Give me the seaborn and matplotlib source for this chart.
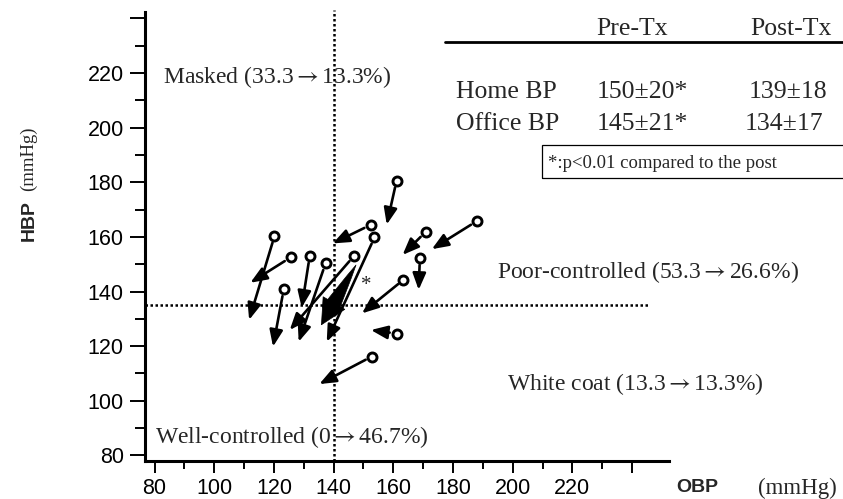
import matplotlib
matplotlib.use('Agg')
import matplotlib.pyplot as plt
from matplotlib.lines import Line2D
from matplotlib.patches import Rectangle
from matplotlib.ticker import FixedLocator
import seaborn as sns
import pandas as pd

# ---------------- data ----------------
obp_pre = [120.2, 125.6, 132.0, 137.3, 146.8, 152.4, 153.7, 123.3, 152.8, 161.1, 170.8, 188.0, 168.9, 163.4, 161.1]
hbp_pre = [160.3, 152.5, 153.0, 150.3, 153.0, 164.4, 159.8, 140.8, 116.2, 180.6, 161.8, 165.8, 152.3, 144.3, 124.6]
obp_post = [111.7, 112.1, 129.3, 128.3, 125.3, 139.7, 137.7, 119.7, 135.2, 157.8, 163.1, 172.9, 168.5, 149.5, 152.5]
hbp_post = [129.6, 143.2, 134.1, 121.6, 125.9, 157.6, 121.6, 119.8, 106.1, 164.5, 153.4, 155.5, 140.6, 132.0, 125.9]
obp_mean = [147.5, 135.8]   # pre, post (thick arrow)
hbp_mean = [149.7, 127.6]
office_thr = 140
home_thr = 135

x_ticks = [80, 100, 120, 140, 160, 180, 200, 220, 240]
x_ticklabels = ['80', '100', '120', '140', '160', '180', '200', '220', '']
x_minor = [90, 110, 130, 150, 170, 190, 210, 230]
y_ticks = [80, 100, 120, 140, 160, 180, 200, 220, 240]
y_ticklabels = ['80', '100', '120', '140', '160', '180', '200', '220', '']
y_minor = [90, 110, 130, 150, 170, 190, 210, 230]

ARROW = r'$\rightarrow$'
zone_masked = 'Masked (33.3' + ARROW + '13.3%)'
zone_poor = 'Poor-controlled (53.3' + ARROW + '26.6%)'
zone_white = 'White coat (13.3' + ARROW + '13.3%)'
zone_well = 'Well-controlled (0' + ARROW + '46.7%)'
table_cols = ['Pre-Tx', 'Post-Tx']
table_rows = ['Home BP', 'Office BP']
table_pre = ['150\u00b120*', '145\u00b121*']
table_post = ['139\u00b118', '134\u00b117']
footnote = '*:p<0.01 compared to the post'

df = pd.DataFrame({'obp_pre': obp_pre, 'hbp_pre': hbp_pre,
                   'obp_post': obp_post, 'hbp_post': hbp_post})

# ---------------- figure ----------------
W, H = 843, 499
sns.set_theme(style='white')
plt.rcParams['font.family'] = ['Liberation Sans', 'DejaVu Sans']
plt.rcParams['mathtext.fontset'] = 'stix'
SERIF = ['Liberation Serif', 'DejaVu Serif']

fig = plt.figure(figsize=(W / 100, H / 100), dpi=100)
ax = fig.add_axes([0, 0, 1, 1])
ax.set_facecolor('none')

# pixel calibration of the reference
x80_px, xs = 154.5, 2.985
y150_px, ys = 264.2, 2.731
ax.set_xlim(80 - x80_px / xs, 80 + (W - x80_px) / xs)
ax.set_ylim(150 - (H - y150_px) / ys, 150 + y150_px / ys)

def fx(px):
    return px / W

def fy(py):
    return 1 - py / H

x_spine = 76.65
y_spine = 77.9
for s in ['top', 'right']:
    ax.spines[s].set_visible(False)
ax.spines['left'].set_position(('data', x_spine))
ax.spines['bottom'].set_position(('data', y_spine))
ax.spines['left'].set_bounds(y_spine, 242.5)
ax.spines['bottom'].set_bounds(x_spine, 252.5)
for s in ['left', 'bottom']:
    ax.spines[s].set_linewidth(2.2)
    ax.spines[s].set_color('black')

ax.set_xticks(x_ticks)
ax.set_xticklabels(x_ticklabels)
ax.xaxis.set_minor_locator(FixedLocator(x_minor))
ax.set_yticks(y_ticks)
ax.set_yticklabels(y_ticklabels)
ax.yaxis.set_minor_locator(FixedLocator(y_minor))
ax.tick_params(axis='x', which='major', bottom=True, direction='out', length=8.5, width=1.4,
               pad=4, labelsize=15.5, color='black', labelcolor='black')
ax.tick_params(axis='x', which='minor', bottom=True, direction='out', length=5.5, width=1.4, color='black')
ax.tick_params(axis='y', which='major', left=True, direction='out', length=11, width=1.4,
               pad=4, labelsize=15.5, color='black', labelcolor='black')
ax.tick_params(axis='y', which='minor', left=True, direction='out', length=7, width=1.4, color='black')
ax.grid(False)

# dotted threshold lines
ax.vlines(office_thr, y_spine, 243, colors='black', linestyles=(0, (1, 1)), linewidth=1.8)
ax.hlines(home_thr, x_spine, 246, colors='black', linestyles=(0, (1, 1)), linewidth=1.8)

# individual arrows
for xa, ya, xb, yb in zip(obp_pre, hbp_pre, obp_post, hbp_post):
    ax.annotate('', xy=(xb, yb), xytext=(xa, ya),
                arrowprops=dict(arrowstyle='-|>,head_length=0.5,head_width=0.2',
                                color='black', lw=1.9, mutation_scale=20,
                                shrinkA=5, shrinkB=0), zorder=4)

# start circles
sns.scatterplot(data=df, x='obp_pre', y='hbp_pre', ax=ax, marker='o', s=42,
                color='white', edgecolor='black', linewidth=2.1, zorder=5, legend=False)
ax.set_xlabel('')
ax.set_ylabel('')

# thick mean arrow: tapered shaft + big head
ax.annotate('', xy=(obp_mean[0], hbp_mean[0]), xytext=(obp_mean[1], hbp_mean[1]),
            arrowprops=dict(arrowstyle='wedge,tail_width=0.6,shrink_factor=0.55',
                            fc='black', ec='black', lw=0.5, mutation_scale=20,
                            shrinkA=12, shrinkB=0), zorder=4)
ax.annotate('', xy=(obp_mean[1], hbp_mean[1]), xytext=(obp_mean[0], hbp_mean[0]),
            arrowprops=dict(arrowstyle='-|>,head_length=0.9,head_width=0.45',
                            fc='black', ec='black', lw=0.5, mutation_scale=20,
                            shrinkA=40, shrinkB=0), zorder=4)
fig.text(fx(366.5), fy(285), '*', family=SERIF, fontsize=15, ha='center', va='center')

# zone labels
fig.text(fx(163.3), fy(83.3), zone_masked, family=SERIF, fontsize=17, ha='left', va='baseline')
fig.text(fx(496.7), fy(278.3), zone_poor, family=SERIF, fontsize=17, ha='left', va='baseline')
fig.text(fx(506.7), fy(390), zone_white, family=SERIF, fontsize=17, ha='left', va='baseline')
fig.text(fx(155), fy(443.3), zone_well, family=SERIF, fontsize=17, ha='left', va='baseline')

# table
fig.text(fx(631.7), fy(35), table_cols[0], family=SERIF, fontsize=18.5, ha='center', va='baseline')
fig.text(fx(790.8), fy(35), table_cols[1], family=SERIF, fontsize=18.5, ha='center', va='baseline')
fig.add_artist(Line2D([fx(445), fx(W)], [fy(41.7), fy(41.7)], lw=2, color='black'))
for i, row in enumerate(table_rows):
    base = [98, 130][i]
    fig.text(fx(456), fy(base), row, family=SERIF, fontsize=18.5, ha='left', va='baseline')
    fig.text(fx(596.7), fy(base), table_pre[i], family=SERIF, fontsize=18.5, ha='left', va='baseline')
    fig.text(fx([748.3, 745][i]), fy(base), table_post[i], family=SERIF, fontsize=18.5, ha='left', va='baseline')
fig.add_artist(Rectangle((fx(541.7), fy(178.3)), fx(W + 10) - fx(541.7), (178.3 - 145) / H,
                         transform=fig.transFigure, fill=False, lw=0.9, ec='black'))
fig.text(fx(548.3), fy(163), footnote, family=SERIF, fontsize=13.5, ha='left', va='center')

# axis labels
fig.text(fx(676.7), fy(491.7), 'OBP', fontsize=14, fontweight='bold', ha='left', va='baseline')
fig.text(fx(758), fy(494), '(mmHg)', family=SERIF, fontsize=16.5, ha='left', va='baseline')
fig.text(fx(29), fy(221), 'HBP', fontsize=14, fontweight='bold', rotation=90, ha='center', va='center')
fig.text(fx(28), fy(159), '(mmHg)', family=SERIF, fontsize=13.5, rotation=90, ha='center', va='center')

fig.savefig('out.png', dpi=100, facecolor='white')
